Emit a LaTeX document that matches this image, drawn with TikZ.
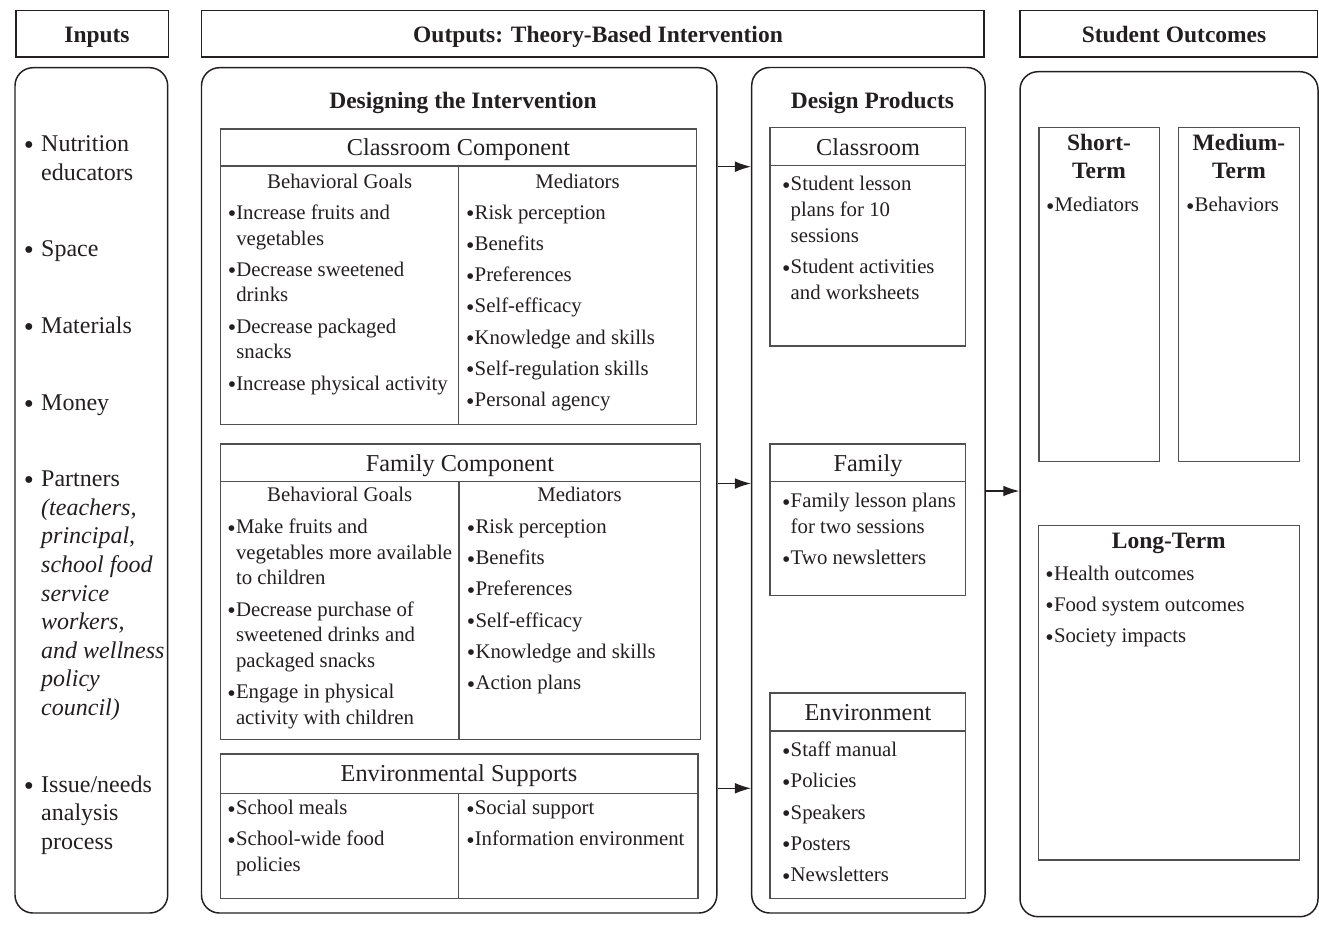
\documentclass[tikz,border=0pt]{standalone}
\usepackage{fontspec}
\setmainfont{Liberation Serif}
\usetikzlibrary{fit,arrows.meta}

\definecolor{ink}{HTML}{231F20}
\definecolor{rulegray}{HTML}{505050}

% type sizes
\newcommand{\fbody}{\fontsize{15.6}{19.3}\selectfont}
\newcommand{\fcomp}{\fontsize{18.2}{21}\selectfont}
\newcommand{\fhead}{\fontsize{17.6}{20.7}\selectfont\bfseries}
\newcommand{\finp}{\fontsize{18}{21.45}\selectfont}
% bullets and list spacing
\newcommand{\bul}{\makebox[5.8pt][l]{\hspace*{-0.6pt}\raisebox{-0.28ex}{\scalebox{1.15}{\textbullet}}}}
\newcommand{\ibul}{\makebox[13.1pt][l]{\raisebox{-0.28ex}{\scalebox{1.2}{\textbullet}}}}
\newcommand{\gap}{\\[4.1pt]}
\newcommand{\igap}{\\[36pt]}

\tikzset{
  hdr/.style={draw=ink, line width=1pt, inner sep=0pt},
  panel/.style={draw=ink, line width=1.1pt, rounded corners=13.5pt, inner sep=0pt},
  cell/.style={draw=rulegray, line width=0.9pt, inner sep=0pt},
  sep/.style={draw=rulegray, line width=0.9pt},
  lst/.style={anchor=base west, inner sep=0pt, font=\fbody, text=ink},
  ttl/.style={anchor=base, inner sep=0pt, text=ink},
  flow/.style={draw=ink, line width=0.9pt, -{Latex[length=12pt,width=8pt]}}
}

\begin{document}
\begin{tikzpicture}[x=0.75pt, y=-0.75pt]
\useasboundingbox (0,0) rectangle (1319,928);

% ---------- column headers ----------
\node[hdr, fit={(16,10.7) (168.3,57)}] (hinp) {};
\node[hdr, fit={(201.7,10.7) (984,57)}] (hout) {};
\node[hdr, fit={(1020,10.7) (1317.5,57)}] (hstu) {};
\node[ttl, font=\fhead] (tinp) at (97,42.3) {Inputs};
\node[ttl, font=\fhead] (tout) at (598,42.3) {Outputs: Theory-Based Intervention};
\node[ttl, font=\fhead] (tstu) at (1174,42.3) {Student Outcomes};

% ---------- rounded panels ----------
\node[panel, fit={(15,67.7) (167.7,913)}] (pinp) {};
\node[panel, fit={(201.5,67.7) (716.8,913)}] (pdes) {};
\node[panel, fit={(751.7,67.5) (985,913)}] (pprod) {};
\node[panel, fit={(1020,71.7) (1318,916.7)}] (pstu) {};

% ---------- inputs ----------
\node[anchor=base west, inner sep=0pt, font=\finp, text=ink] (linp) at (23.5,151.7) {%
\begin{tabular}[t]{@{}l@{}l@{}}
\ibul & Nutrition\\
 & educators\igap
\ibul & Space\igap
\ibul & Materials\igap
\ibul & Money\igap
\ibul & Partners\\
 & \textit{(teachers,}\\
 & \textit{principal,}\\
 & \textit{school food}\\
 & \textit{service}\\
 & \textit{workers,}\\
 & \textit{and wellness}\\
 & \textit{policy}\\
 & \textit{council)}\igap
\ibul & Issue/needs\\
 & analysis\\
 & process
\end{tabular}};

% ---------- designing the intervention ----------
\node[ttl, font=\fhead] (tdes) at (463,108.3) {Designing the Intervention};

% classroom component
\node[cell, fit={(220.7,129) (696.3,424.3)}] (cc) {};
\draw[sep] (220.7,166) -- (696.3,166);
\draw[sep] (458.7,166) -- (458.7,424.3);
\node[ttl, font=\fcomp] (tcc) at (458.5,155) {Classroom Component};
\node[ttl, font=\fbody] (tccg) at (339.7,188.3) {Behavioral Goals};
\node[ttl, font=\fbody] (tccm) at (577.5,188.3) {Mediators};
\node[lst] (lccg) at (228.3,219.3) {%
\begin{tabular}[t]{@{}l@{}l@{}}
\bul & Increase fruits and\\
 & vegetables\gap
\bul & Decrease sweetened\\
 & drinks\gap
\bul & Decrease packaged\\
 & snacks\gap
\bul & Increase physical activity
\end{tabular}};
\node[lst] (lccm) at (466.7,219.3) {%
\begin{tabular}[t]{@{}l@{}l@{}}
\bul & Risk perception\gap
\bul & Benefits\gap
\bul & Preferences\gap
\bul & Self-efficacy\gap
\bul & Knowledge and skills\gap
\bul & Self-regulation skills\gap
\bul & Personal agency
\end{tabular}};

% family component
\node[cell, fit={(220.7,444) (700.4,739.3)}] (fc) {};
\draw[sep] (220.7,481.7) -- (700.4,481.7);
\draw[sep] (459,481.7) -- (459,739.3);
\node[ttl, font=\fcomp] (tfc) at (460,471.7) {Family Component};
\node[ttl, font=\fbody] (tfcg) at (339.7,501.7) {Behavioral Goals};
\node[ttl, font=\fbody] (tfcm) at (579.5,501.7) {Mediators};
\node[lst] (lfcg) at (228,533.5) {%
\begin{tabular}[t]{@{}l@{}l@{}}
\bul & Make fruits and\\
 & vegetables more available\\
 & to children\gap
\bul & Decrease purchase of\\
 & sweetened drinks and\\
 & packaged snacks\gap
\bul & Engage in physical\\
 & activity with children
\end{tabular}};
\node[lst] (lfcm) at (467.5,533.5) {%
\begin{tabular}[t]{@{}l@{}l@{}}
\bul & Risk perception\gap
\bul & Benefits\gap
\bul & Preferences\gap
\bul & Self-efficacy\gap
\bul & Knowledge and skills\gap
\bul & Action plans
\end{tabular}};

% environmental supports
\node[cell, fit={(220.7,754) (697.9,898.7)}] (es) {};
\draw[sep] (220.7,793.3) -- (697.9,793.3);
\draw[sep] (458.6,793.3) -- (458.6,898.7);
\node[ttl, font=\fcomp] (tes) at (459,781.7) {Environmental Supports};
\node[lst] (lesl) at (228,814.5) {%
\begin{tabular}[t]{@{}l@{}l@{}}
\bul & School meals\gap
\bul & School-wide food\\
 & policies
\end{tabular}};
\node[lst] (lesr) at (466.8,814.5) {%
\begin{tabular}[t]{@{}l@{}l@{}}
\bul & Social support\gap
\bul & Information environment
\end{tabular}};

% ---------- design products ----------
\node[ttl, font=\fhead] (tprod) at (872.5,108.3) {Design Products};

\node[cell, fit={(770,127.3) (965.7,346)}] (dcl) {};
\draw[sep] (770,165.7) -- (965.7,165.7);
\node[ttl, font=\fcomp] (tdcl) at (868,155) {Classroom};
\node[lst] (ldcl) at (782.7,190.7) {%
\begin{tabular}[t]{@{}l@{}l@{}}
\bul & Student lesson\\
 & plans for 10\\
 & sessions\gap
\bul & Student activities\\
 & and worksheets
\end{tabular}};

\node[cell, fit={(770,444) (965.7,595.3)}] (dfa) {};
\draw[sep] (770,481.7) -- (965.7,481.7);
\node[ttl, font=\fcomp] (tdfa) at (868,471.7) {Family};
\node[lst] (ldfa) at (782.7,507.5) {%
\begin{tabular}[t]{@{}l@{}l@{}}
\bul & Family lesson plans\\
 & for two sessions\gap
\bul & Two newsletters
\end{tabular}};

\node[cell, fit={(770,693) (965.7,898.3)}] (den) {};
\draw[sep] (770,731) -- (965.7,731);
\node[ttl, font=\fcomp] (tden) at (868,720) {Environment};
\node[lst] (lden) at (782.7,756.7) {%
\begin{tabular}[t]{@{}l@{}l@{}}
\bul & Staff manual\gap
\bul & Policies\gap
\bul & Speakers\gap
\bul & Posters\gap
\bul & Newsletters
\end{tabular}};

% ---------- student outcomes ----------
\node[cell, fit={(1039,127.3) (1159.3,461.7)}] (sst) {};
\node[cell, fit={(1178.7,127.3) (1299.3,461.7)}] (mst) {};
\node[cell, fit={(1038.5,525.7) (1299.3,860)}] (ltm) {};
\node[ttl, font=\fhead] (tsst) at (1099,150.7) {\begin{tabular}[t]{@{}c@{}}Short-\\Term\end{tabular}};
\node[ttl, font=\fhead] (tmst) at (1239,150.7) {\begin{tabular}[t]{@{}c@{}}Medium-\\Term\end{tabular}};
\node[ttl, font=\fhead] (tltm) at (1168.8,548.3) {Long-Term};
\node[lst] (lsst) at (1046.7,211.7) {\bul Mediators};
\node[lst] (lmst) at (1186.7,211.7) {\bul Behaviors};
\node[lst] (lltm) at (1046,580) {%
\begin{tabular}[t]{@{}l@{}l@{}}
\bul & Health outcomes\gap
\bul & Food system outcomes\gap
\bul & Society impacts
\end{tabular}};

% ---------- flow arrows ----------
\coordinate (ya) at (0,166.7);
\coordinate (yb) at (0,483.5);
\coordinate (yc) at (0,788.3);
\coordinate (yd) at (0,491);
\draw[flow] (pdes.east |- ya) -- (pprod.west |- ya);
\draw[flow] (pdes.east |- yb) -- (pprod.west |- yb);
\draw[flow] (pdes.east |- yc) -- (pprod.west |- yc);
\draw[flow] (pprod.east |- yd) -- (pstu.west |- yd);
\end{tikzpicture}
\end{document}
